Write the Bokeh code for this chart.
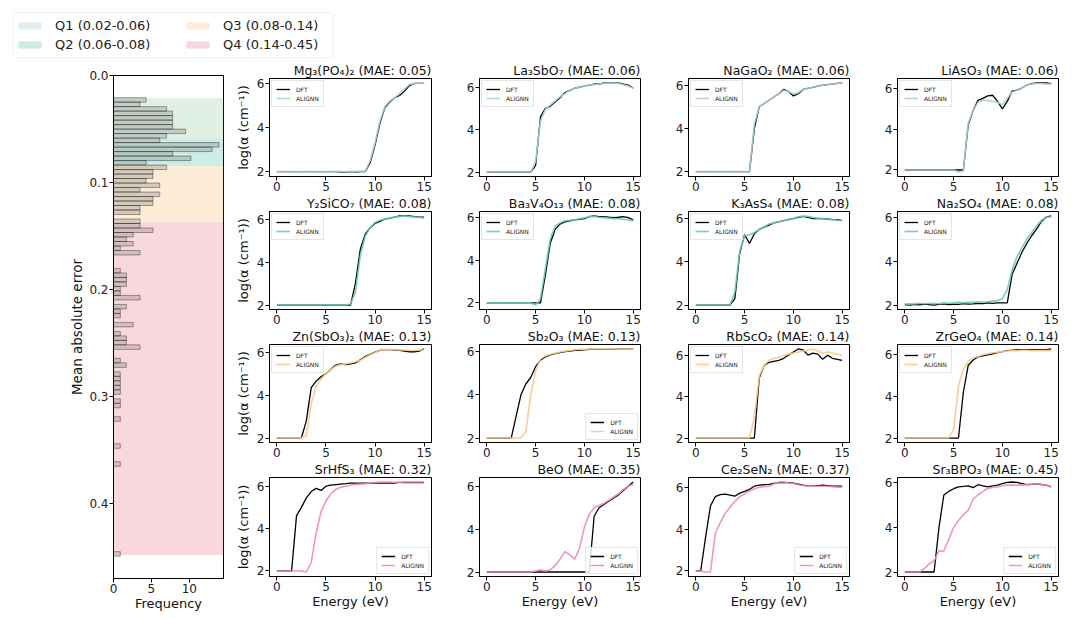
from bokeh.plotting import figure
from bokeh.layouts import row, column
from bokeh.models import (Range1d, FixedTicker, NumeralTickFormatter, Legend,
                          LegendItem, BoxAnnotation)
from bokeh.embed import file_html
from bokeh.resources import INLINE

FONT = "DejaVu Sans"

# ---------------------------------------------------------------- data
energy = [0.0, 0.5, 1.0, 1.5, 2.0, 2.5, 3.0, 3.5, 4.0, 4.5, 5.0, 5.5, 6.0, 6.5,
          7.0, 7.5, 8.0, 8.5, 9.0, 9.5, 10.0, 10.5, 11.0, 11.5, 12.0, 12.5,
          13.0, 13.5, 14.0, 14.5, 15.0]

q_labels = ["Q1 (0.02-0.06)", "Q2 (0.06-0.08)", "Q3 (0.08-0.14)", "Q4 (0.14-0.45)"]
q_edges = [0.021, 0.059, 0.0845, 0.137, 0.448]
q_colors = ["#a8d5b5", "#6cc9b8", "#f9c98a", "#ee8f9f"]

# histogram of the mean absolute error (bin centres and frequencies)
hist_mae = [0.0228, 0.0270, 0.0312, 0.0354, 0.0396, 0.0438, 0.0480, 0.0522,
            0.0564, 0.0606, 0.0648, 0.0690, 0.0732, 0.0774, 0.0816, 0.0858,
            0.0900, 0.0942, 0.0984, 0.1026, 0.1068, 0.1110, 0.1152, 0.1194,
            0.1236, 0.1278,
            0.1362, 0.1404, 0.1446, 0.1488, 0.1530, 0.1572, 0.1614, 0.1656,
            0.1824, 0.1866, 0.1908, 0.1950, 0.1992, 0.2034, 0.2076,
            0.2160, 0.2202, 0.2244,
            0.2328,
            0.2412, 0.2454, 0.2496, 0.2538,
            0.2664, 0.2706,
            0.2790, 0.2832, 0.2874, 0.2916, 0.2958,
            0.3042, 0.3084,
            0.3210, 0.3462, 0.3630, 0.4470]
hist_freq = [4.3, 3.5, 7.0, 7.8, 7.8, 7.8, 7.8, 9.5, 7.0, 6.1, 13.9, 13.0, 7.8,
             10.2, 4.3, 7.0, 5.2, 5.2, 4.3, 6.1, 3.5, 6.1, 5.2, 5.2, 3.5, 3.5,
             3.5, 3.5, 5.2, 2.6, 1.7, 2.6, 0.9, 3.5,
             0.9, 1.7, 1.7, 1.7, 0.9, 0.9, 3.5,
             1.7, 0.9, 0.9,
             2.6,
             0.9, 1.7, 1.7, 3.5,
             0.9, 1.7,
             0.9, 0.9, 0.9, 0.9, 0.9,
             0.9, 0.9,
             0.9, 0.9, 0.9, 0.9]
hist_bin = 0.0042

# absorption spectra, log10(alpha) on the energy grid
mg3po42_dft = [2.0, 2.0, 2.0, 2.0, 2.0, 2.0, 2.0, 2.0, 2.0, 2.0, 2.0, 2.0, 2.0, 1.98, 1.98, 2.0, 1.98, 2.0, 2.0,
               2.4, 3.2, 4.2, 4.9, 5.15, 5.35, 5.45, 5.65, 5.9, 6.0, 6.0, 6.0]
mg3po42_alignn = [2.0, 2.0, 2.01, 2.0, 1.99, 2.0, 2.01, 2.0, 2.0, 1.99, 2.0, 2.01, 2.0, 2.0, 1.99, 2.0, 2.0, 2.01, 2.02,
                  2.5, 3.3, 4.3, 4.95, 5.2, 5.35, 5.55, 5.75, 5.95, 6.0, 6.02, 6.0]

la3sbo7_dft = [2.0, 2.0, 2.0, 2.0, 2.0, 2.0, 2.0, 2.0, 2.0, 2.0,
               2.3, 4.6, 5.0, 5.1, 5.3, 5.5, 5.75, 5.85, 5.95, 6.0, 6.05, 6.1, 6.15, 6.15, 6.2, 6.2, 6.2, 6.2, 6.15, 6.1, 5.95]
la3sbo7_alignn = [2.0, 2.0, 2.0, 2.0, 2.0, 2.0, 2.0, 2.0, 2.0, 2.0,
                  2.5, 4.4, 4.95, 5.15, 5.35, 5.55, 5.7, 5.85, 5.95, 6.0, 6.05, 6.1, 6.12, 6.15, 6.18, 6.2, 6.2, 6.18, 6.12, 6.05, 5.95]

nagao2_dft = [2.0, 2.0, 2.0, 2.0, 2.0, 2.0, 2.0, 2.0, 2.0, 2.0, 2.0, 2.0,
              4.0, 5.0, 5.15, 5.3, 5.45, 5.6, 5.8, 5.7, 5.5, 5.6, 5.8, 5.85, 5.9, 5.95, 6.0, 6.02, 6.05, 6.08, 6.1]
nagao2_alignn = [2.0, 2.0, 2.0, 2.0, 2.0, 2.0, 2.0, 2.0, 2.0, 2.0, 2.0, 1.98,
                 4.2, 5.0, 5.15, 5.3, 5.45, 5.6, 5.75, 5.7, 5.6, 5.65, 5.8, 5.85, 5.9, 5.95, 6.0, 6.02, 6.05, 6.08, 6.1]

liaso3_dft = [2.0, 2.0, 2.0, 2.0, 2.0, 2.0, 2.0, 2.0, 2.0, 2.0, 2.0, 2.0, 2.0,
              4.2, 4.9, 5.4, 5.5, 5.62, 5.65, 5.35, 4.98, 5.35, 5.85, 5.9, 6.0, 6.15, 6.22, 6.25, 6.25, 6.25, 6.22]
liaso3_alignn = [2.0, 2.0, 2.0, 2.0, 2.0, 2.0, 2.0, 2.0, 2.0, 2.0, 2.0, 1.9, 1.95,
                 4.3, 4.9, 5.3, 5.4, 5.4, 5.35, 5.3, 5.2, 5.5, 5.8, 5.9, 6.0, 6.15, 6.2, 6.22, 6.22, 6.2, 6.2]

y2sico7_dft = [2.0, 2.0, 2.0, 2.0, 2.0, 2.0, 2.0, 2.0, 2.0, 2.0, 2.0, 2.0, 2.0, 2.0, 2.0, 2.0,
               3.0, 4.6, 5.3, 5.6, 5.8, 5.9, 6.0, 6.05, 6.1, 6.15, 6.15, 6.15, 6.12, 6.1, 6.1]
y2sico7_alignn = [2.0, 2.0, 2.0, 2.0, 2.0, 2.0, 2.0, 2.0, 2.0, 2.0, 2.0, 2.0, 2.0, 2.0, 2.0, 2.05,
                  2.6, 4.3, 5.2, 5.6, 5.85, 5.95, 6.0, 6.05, 6.1, 6.12, 6.15, 6.12, 6.1, 6.08, 6.05]

ba3v4o13_dft = [2.0, 2.0, 2.0, 2.0, 2.0, 2.0, 2.0, 2.0, 2.0, 2.0, 2.0, 2.0,
                3.3, 4.8, 5.45, 5.7, 5.8, 5.85, 5.9, 5.92, 5.95, 6.05, 6.08, 6.05, 6.05, 6.02, 6.0, 6.02, 6.05, 6.0, 5.9]
ba3v4o13_alignn = [2.0, 2.0, 2.0, 2.0, 2.0, 2.0, 2.0, 2.0, 2.0, 2.0,
                   1.9, 2.2, 3.6, 5.0, 5.6, 5.75, 5.85, 5.88, 5.9, 5.95, 6.0, 6.05, 6.05, 6.02, 6.0, 5.98, 5.95, 5.95, 5.92, 5.9, 5.85]

k3ass4_dft = [2.0, 2.0, 2.0, 2.0, 2.0, 2.0, 2.0, 2.0,
              2.3, 4.4, 5.25, 4.85, 5.3, 5.5, 5.6, 5.7, 5.8, 5.85, 5.9, 5.95, 6.0, 6.05, 6.1, 6.05, 6.0, 6.0, 6.0, 5.98, 5.95, 5.95, 5.9]
k3ass4_alignn = [2.0, 2.0, 2.0, 2.0, 2.0, 2.0, 2.0, 2.0,
                 2.6, 4.5, 5.2, 5.25, 5.35, 5.5, 5.6, 5.75, 5.8, 5.85, 5.9, 5.95, 6.0, 6.08, 6.12, 6.1, 6.05, 6.02, 6.0, 5.98, 5.95, 5.92, 5.9]

na2so4_dft = [2.02, 2.0, 2.03, 2.01, 2.04, 2.02, 2.0, 2.03, 2.05, 2.02, 2.04, 2.03, 2.06, 2.04, 2.05, 2.08, 2.06, 2.1, 2.08, 2.1, 2.1,
              2.1, 3.4, 3.9, 4.4, 4.8, 5.15, 5.45, 5.8, 6.0, 6.05]
na2so4_alignn = [2.05, 2.06, 2.05, 2.08, 2.06, 2.07, 2.08, 2.06, 2.1, 2.08, 2.1, 2.12, 2.1, 2.13, 2.12, 2.15, 2.13, 2.15, 2.18, 2.2, 2.3,
                 2.7, 3.6, 4.2, 4.6, 5.0, 5.3, 5.6, 5.85, 6.0, 6.0]

znsbo32_dft = [2.0, 2.0, 2.0, 2.0, 2.0, 2.0,
               2.8, 4.35, 4.65, 4.85, 5.0, 5.2, 5.4, 5.45, 5.42, 5.45, 5.5, 5.65, 5.8, 5.9, 6.0, 6.08, 6.12, 6.12, 6.1, 6.08, 6.05, 6.02, 6.02, 6.05, 6.15]
znsbo32_alignn = [2.0, 2.0, 2.0, 2.0, 2.0, 2.0,
                  2.1, 3.6, 4.4, 4.75, 5.0, 5.2, 5.35, 5.42, 5.45, 5.5, 5.55, 5.62, 5.75, 5.88, 5.98, 6.08, 6.12, 6.12, 6.12, 6.1, 6.1, 6.08, 6.08, 6.1, 6.1]

sb2o3_dft = [2.0, 2.0, 2.0, 2.0, 2.0, 2.0,
             3.0, 4.0, 4.5, 4.8, 5.3, 5.6, 5.75, 5.85, 5.9, 5.95, 6.0, 6.02, 6.05, 6.05, 6.08, 6.1, 6.1, 6.1, 6.1, 6.1, 6.1, 6.12, 6.12, 6.12, 6.12]
sb2o3_alignn = [2.0, 2.0, 2.0, 2.0, 2.0, 2.0, 2.0, 2.0,
                2.3, 4.0, 5.1, 5.65, 5.8, 5.88, 5.92, 5.98, 6.02, 6.05, 6.08, 6.1, 6.1, 6.12, 6.12, 6.12, 6.12, 6.12, 6.12, 6.12, 6.12, 6.12, 6.12]

rbsco2_dft = [2.0, 2.0, 2.0, 2.0, 2.0, 2.0, 2.0, 2.0, 2.0, 2.0, 2.0, 2.0, 2.0,
              4.9, 5.5, 5.65, 5.7, 5.75, 5.85, 6.0, 6.15, 6.3, 6.25, 6.0, 6.1, 6.05, 5.8, 6.0, 5.85, 5.8, 5.75]
rbsco2_alignn = [2.0, 2.0, 2.0, 2.0, 2.0, 2.0, 2.0, 2.0, 2.0, 2.0, 2.0, 2.0,
                 3.0, 5.0, 5.5, 5.75, 5.85, 5.9, 6.0, 6.05, 6.1, 6.15, 6.2, 6.25, 6.3, 6.2, 6.1, 6.15, 6.1, 6.05, 6.0]

zrgeo4_dft = [2.0, 2.0, 2.0, 2.0, 2.0, 2.0, 2.0, 2.0, 2.0, 2.0, 2.0, 2.0,
              4.2, 5.5, 5.75, 5.9, 5.95, 6.0, 6.05, 6.1, 6.15, 6.2, 6.22, 6.25, 6.25, 6.25, 6.25, 6.25, 6.25, 6.25, 6.28]
zrgeo4_alignn = [2.0, 2.0, 2.0, 2.0, 2.0, 2.0, 2.0, 2.0, 2.0, 2.0,
                 2.4, 4.5, 5.3, 5.7, 5.85, 5.92, 6.0, 6.05, 6.1, 6.12, 6.15, 6.18, 6.2, 6.2, 6.22, 6.22, 6.2, 6.2, 6.2, 6.2, 6.2]

srhfs3_dft = [2.0, 2.0, 2.0, 2.0,
              4.6, 5.0, 5.45, 5.75, 5.9, 5.8, 6.0, 6.05, 6.08, 6.1, 6.12, 6.15, 6.15, 6.15, 6.15, 6.15, 6.15, 6.15, 6.15, 6.15, 6.15, 6.18, 6.18, 6.18, 6.18, 6.18, 6.18]
srhfs3_alignn = [2.0, 2.0, 2.0, 2.0, 2.0, 2.0,
                 1.95, 2.4, 3.8, 4.8, 5.3, 5.65, 5.85, 5.95, 6.0, 6.05, 6.08, 6.1, 6.12, 6.15, 6.18, 6.2, 6.2, 6.2, 6.18, 6.18, 6.15, 6.15, 6.15, 6.15, 6.15]

beo_dft = [2.0, 2.0, 2.0, 2.0, 2.0, 2.0, 2.0, 2.0, 2.0, 2.0, 2.0, 2.0, 2.0, 2.0, 2.0, 2.0, 2.0, 2.0, 2.0, 2.0, 2.0, 2.0,
           4.6, 5.0, 5.15, 5.3, 5.45, 5.6, 5.8, 6.0, 6.2]
beo_alignn = [2.0, 2.0, 2.0, 2.0, 2.0, 2.0, 2.0, 2.0, 2.0, 2.0,
              2.05, 2.1, 2.05, 2.1, 2.3, 2.6, 2.95, 2.8, 2.6, 3.1, 4.1, 4.7, 5.0, 5.1, 5.2, 5.35, 5.5, 5.65, 5.85, 6.0, 6.1]

ce2sen2_dft = [2.0, 2.0, 3.6, 5.1, 5.55, 5.65, 5.67, 5.62, 5.57, 5.72, 5.8, 5.9, 6.05, 6.1, 6.12, 6.14,
               6.18, 6.22, 6.23, 6.22, 6.2, 6.15, 6.1, 6.05, 6.05, 6.08, 6.1, 6.08, 6.05, 6.05, 6.05]
ce2sen2_alignn = [2.0, 2.0, 1.95, 1.95, 3.8, 4.3, 4.75, 5.05, 5.33, 5.55, 5.68, 5.82, 5.93, 6.0, 6.03, 6.05,
                  6.15, 6.25, 6.25, 6.2, 6.18, 6.12, 6.08, 6.05, 6.05, 6.05, 6.05, 6.05, 6.02, 6.0, 6.0]

sr3bpo3_dft = [2.0, 2.0, 2.0, 2.0, 2.0, 2.0, 2.0,
               3.98, 5.44, 5.6, 5.72, 5.8, 5.82, 5.85, 5.77, 5.9, 5.85, 5.8, 5.85, 5.88, 5.95, 6.0, 6.02, 6.0, 5.95, 5.9, 5.92, 5.95, 5.9, 5.88, 5.8]
sr3bpo3_alignn = [2.0, 2.0, 2.0, 2.0, 2.15, 2.37, 2.5, 2.95, 2.93, 3.46, 3.98, 4.3, 4.56, 4.75, 5.25, 5.44,
                  5.6, 5.73, 5.78, 5.8, 5.85, 5.88, 5.88, 5.88, 5.88, 5.9, 5.92, 5.95, 5.92, 5.88, 5.8]

materials = ["Mg₃(PO₄)₂", "La₃SbO₇", "NaGaO₂", "LiAsO₃",
             "Y₂SiCO₇", "Ba₃V₄O₁₃", "K₃AsS₄", "Na₂SO₄",
             "Zn(SbO₃)₂", "Sb₂O₃", "RbScO₂", "ZrGeO₄",
             "SrHfS₃", "BeO", "Ce₂SeN₂", "Sr₃BPO₃"]
mae_values = [0.05, 0.06, 0.06, 0.06,
              0.08, 0.08, 0.08, 0.08,
              0.13, 0.13, 0.14, 0.14,
              0.32, 0.35, 0.37, 0.45]
dft_curves = [mg3po42_dft, la3sbo7_dft, nagao2_dft, liaso3_dft,
              y2sico7_dft, ba3v4o13_dft, k3ass4_dft, na2so4_dft,
              znsbo32_dft, sb2o3_dft, rbsco2_dft, zrgeo4_dft,
              srhfs3_dft, beo_dft, ce2sen2_dft, sr3bpo3_dft]
alignn_curves = [mg3po42_alignn, la3sbo7_alignn, nagao2_alignn, liaso3_alignn,
                 y2sico7_alignn, ba3v4o13_alignn, k3ass4_alignn, na2so4_alignn,
                 znsbo32_alignn, sb2o3_alignn, rbsco2_alignn, zrgeo4_alignn,
                 srhfs3_alignn, beo_alignn, ce2sen2_alignn, sr3bpo3_alignn]
legend_corner = ["top_left", "top_left", "top_left", "top_left",
                 "top_left", "top_left", "top_left", "top_left",
                 "top_left", "bottom_right", "top_left", "top_left",
                 "bottom_right", "bottom_right", "bottom_right", "bottom_right"]


# ---------------------------------------------------------------- helpers
def style_axes(p, size="12px"):
    p.grid.visible = False
    p.outline_line_color = "black"
    p.outline_line_alpha = 1.0
    p.background_fill_color = "white"
    p.border_fill_color = "white"
    for ax in p.axis:
        ax.axis_line_color = "black"
        ax.major_tick_line_color = "black"
        ax.major_tick_out = 4
        ax.major_tick_in = 0
        ax.minor_tick_out = 0
        ax.minor_tick_in = 0
        ax.major_label_standoff = 1
        ax.major_label_text_font = FONT
        ax.major_label_text_font_size = size
        ax.major_label_text_color = "#222222"
        ax.axis_label_text_font = FONT
        ax.axis_label_text_font_size = "13px"
        ax.axis_label_text_font_style = "normal"
        ax.axis_label_text_color = "#111111"
        ax.axis_label_standoff = 3
    for ax in p.xaxis:
        ax.axis_label_standoff = 0


# ---------------------------------------------------------------- legend strip
top = figure(width=1080, height=60, x_range=Range1d(0, 1080), y_range=Range1d(60, 0),
             x_axis_type=None, y_axis_type=None, toolbar_location=None,
             output_backend="svg", min_border_left=0, min_border_right=0,
             min_border_top=0, min_border_bottom=0)
top.grid.visible = False
top.outline_line_color = None
top.add_layout(BoxAnnotation(left=12, right=333, top=12, bottom=57, fill_alpha=0,
                             line_color="#d4d4d4", line_width=1, border_radius=4))
# swatch renderers live outside the visible range; only their legend entries show
swatches = [top.quad(left=[-30], right=[-20], top=[-30], bottom=[-20], fill_color=q_colors[k],
                     fill_alpha=0.35, line_color=None) for k in range(4)]
for k0, x0 in ((0, 15), (2, 183)):
    leg = Legend(items=[LegendItem(label=q_labels[k], renderers=[swatches[k]]) for k in (k0, k0 + 1)],
                 location=(x0, 8), orientation="vertical", margin=0, padding=0, spacing=4,
                 glyph_width=29, glyph_height=9, label_height=15, label_standoff=11,
                 label_text_font=FONT, label_text_font_size="13px", label_text_color="#222222",
                 border_line_color=None, background_fill_alpha=0)
    top.add_layout(leg)

# ---------------------------------------------------------------- histogram
hist = figure(width=230, height=559, x_range=Range1d(0, 14.5), y_range=Range1d(0.47, 0.0),
              toolbar_location=None, output_backend="svg",
              min_border_left=113, min_border_right=7, min_border_top=15, min_border_bottom=41)
for k in range(4):
    hist.add_layout(BoxAnnotation(bottom=q_edges[k], top=q_edges[k + 1], fill_color=q_colors[k],
                                  fill_alpha=0.35, line_color=None, level="underlay"))
hist.hbar(y=hist_mae, left=0, right=hist_freq, height=hist_bin, fill_color="#7a7a7a",
          fill_alpha=0.3, line_color="black", line_alpha=0.45, line_width=0.8)
style_axes(hist)
hist.xaxis.ticker = FixedTicker(ticks=[0, 5, 10])
hist.yaxis.ticker = FixedTicker(ticks=[0.0, 0.1, 0.2, 0.3, 0.4])
hist.yaxis.formatter = NumeralTickFormatter(format="0.0")
hist.xaxis.axis_label = "Frequency"
hist.yaxis.axis_label = "Mean absolute error"
hist.yaxis.axis_label_standoff = 1
hist.yaxis.axis_label_text_font_size = "13.5px"

# ---------------------------------------------------------------- spectra grid
col_width = [225, 209, 209, 207]
col_left = [39, 24, 24, 24]
col_right = [24, 24, 24, 22]

panels = []
for i, name in enumerate(materials):
    r, c = divmod(i, 4)
    dft = dft_curves[i]
    aln = alignn_curves[i]
    lo = min(dft + aln)
    hi = max(dft + aln)
    pad = 0.05 * (hi - lo)
    last = r == 3
    p = figure(width=col_width[c], height=160 if last else 133,
               x_range=Range1d(-0.75, 15.75), y_range=Range1d(lo - pad, hi + pad),
               toolbar_location=None, output_backend="svg",
               min_border_left=col_left[c], min_border_right=col_right[c],
               min_border_top=15, min_border_bottom=43 if last else 16)
    p.title.text = f"{name} (MAE: {mae_values[i]:.2f})"
    p.title.align = "right"
    p.title.text_font = FONT
    p.title.text_font_size = "12.5px"
    p.title.text_font_style = "normal"
    p.title.text_color = "#111111"
    p.title.standoff = 1
    d = p.line(energy, dft, line_color="black", line_width=1.3)
    a = p.line(energy, aln, line_color=q_colors[r], line_width=1.6, line_alpha=0.9)
    style_axes(p)
    p.xaxis.ticker = FixedTicker(ticks=[0, 5, 10, 15])
    p.yaxis.ticker = FixedTicker(ticks=[2, 4, 6])
    if c == 0:
        p.yaxis.axis_label = "log(α (cm⁻¹))"
    if last:
        p.xaxis.axis_label = "Energy (eV)"
    leg = Legend(items=[LegendItem(label="DFT", renderers=[d]),
                        LegendItem(label="ALIGNN", renderers=[a])],
                 location=legend_corner[i], margin=2, padding=4, spacing=1,
                 glyph_width=14, glyph_height=8, label_height=8, label_standoff=6,
                 label_text_font=FONT, label_text_font_size="6px", label_text_color="#222222",
                 border_line_color="#cccccc", border_line_width=0.8, background_fill_alpha=0.85)
    p.add_layout(leg)
    panels.append(p)

grid = column(*[row(*panels[4 * r:4 * r + 4]) for r in range(4)])
layout = column(top, row(hist, grid))

open("out.html", "w").write(file_html(layout, INLINE))
